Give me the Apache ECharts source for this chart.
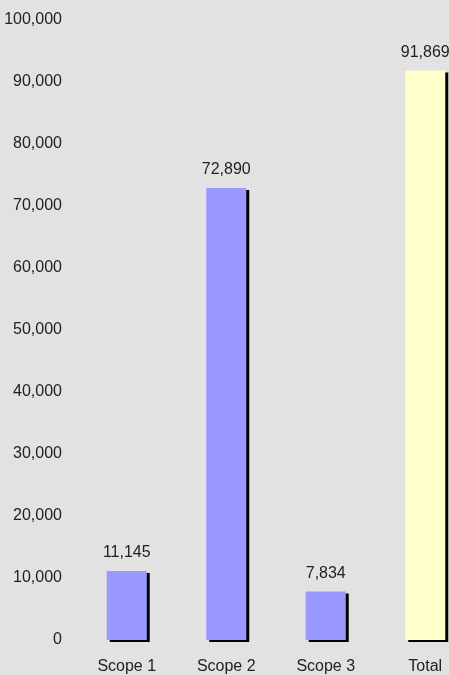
<!DOCTYPE html>
<html><head><meta charset="utf-8">
<script src="https://cdn.jsdelivr.net/npm/echarts@6/dist/echarts.min.js"></script>
<style>html,body{margin:0;padding:0;background:#e2e2e2}#c{width:449px;height:675px}</style>
</head><body><div id="c"></div>
<script>
const categories = ["Scope 1", "Scope 2", "Scope 3", "Total"];
const values = [11145, 72890, 7834, 91869];
const barColors = ["#9999ff", "#9999ff", "#9999ff", "#ffffcc"];
const yTicks = [0, 10000, 20000, 30000, 40000, 50000, 60000, 70000, 80000, 90000, 100000];

const font = "'Liberation Sans Narrow', 'Arial Narrow', 'Liberation Sans', sans-serif";
const chart = echarts.init(document.getElementById('c'));
chart.setOption({
  backgroundColor: '#e2e2e2',
  animation: false,
  grid: {left: 77, top: 20, bottom: 35, width: 398, outerBoundsMode: 'none', containLabel: false},
  xAxis: {
    type: 'category', data: categories,
    axisLine: {show: false}, axisTick: {show: false},
    axisLabel: {color: '#222', fontFamily: font, fontSize: 16, margin: 19}
  },
  yAxis: {
    type: 'value', min: yTicks[0], max: yTicks[yTicks.length - 1], interval: yTicks[1] - yTicks[0],
    splitLine: {show: false}, axisLine: {show: false}, axisTick: {show: false},
    axisLabel: {color: '#222', fontFamily: font, fontSize: 16, margin: 15,
      formatter: v => v.toLocaleString('en-US')}
  },
  series: [{
    type: 'bar', barWidth: 40,
    data: values.map((v, i) => ({value: v, itemStyle: {color: barColors[i]}})),
    itemStyle: {shadowColor: '#000', shadowOffsetX: 3, shadowOffsetY: 2, shadowBlur: 0},
    label: {show: true, position: 'top', distance: 10, color: '#222', fontFamily: font, fontSize: 16,
      formatter: p => p.value.toLocaleString('en-US')}
  }]
});
</script></body></html>
